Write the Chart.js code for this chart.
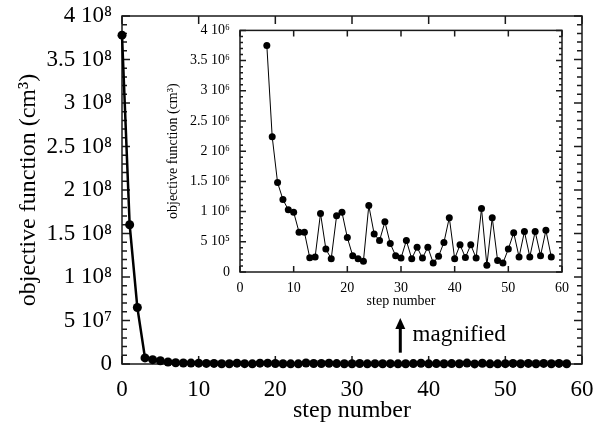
<!DOCTYPE html>
<html>
<head>
<meta charset="utf-8">
<script src="https://cdn.jsdelivr.net/npm/chart.js@4.4.0/dist/chart.umd.min.js"></script>
<style>
  html, body { margin: 0; padding: 0; background: #fff; }
  #wrap { position: relative; width: 604px; height: 429px; }
  #mainChart { position: absolute; left: 0; top: 0; }
  #insetChart { position: absolute; left: 160px; top: 20px; }
</style>
</head>
<body>
<div id="wrap">
  <canvas id="mainChart" width="604" height="429"></canvas>
  <canvas id="insetChart" width="410" height="290"></canvas>
</div>
<script>
// step numbers
const steps = [0, 1, 2, 3, 4, 5, 6, 7, 8, 9, 10, 11, 12, 13, 14, 15, 16, 17, 18, 19,
  20, 21, 22, 23, 24, 25, 26, 27, 28, 29, 30, 31, 32, 33, 34, 35, 36, 37, 38, 39,
  40, 41, 42, 43, 44, 45, 46, 47, 48, 49, 50, 51, 52, 53, 54, 55, 56, 57, 58];

// objective function (cm^3) for steps 0-4 (only readable on the big plot)
const earlyValues = [3.78e8, 1.6e8, 6.5e7, 7.0e6, 5.0e6];

// objective function (cm^3) for steps 5-58
const laterValues = [3.75e6, 2.24e6, 1.48e6, 1.20e6, 1.03e6, 0.99e6, 0.66e6, 0.66e6, 0.235e6, 0.25e6,
  0.97e6, 0.38e6, 0.22e6, 0.93e6, 0.99e6, 0.57e6, 0.27e6, 0.22e6, 0.18e6, 1.10e6,
  0.63e6, 0.52e6, 0.83e6, 0.47e6, 0.27e6, 0.23e6, 0.52e6, 0.22e6, 0.41e6, 0.23e6,
  0.41e6, 0.15e6, 0.26e6, 0.49e6, 0.90e6, 0.22e6, 0.45e6, 0.24e6, 0.45e6, 0.23e6,
  1.05e6, 0.11e6, 0.90e6, 0.19e6, 0.15e6, 0.38e6, 0.65e6, 0.25e6, 0.67e6, 0.25e6,
  0.67e6, 0.27e6, 0.69e6, 0.25e6];

const xTickValues = [0, 10, 20, 30, 40, 50, 60];

const SERIF = "'Liberation Serif', 'Times New Roman', serif";
const SUP = { "0": "⁰", "1": "¹", "2": "²", "3": "³", "4": "⁴", "5": "⁵", "6": "⁶", "7": "⁷", "8": "⁸", "9": "⁹" };

// 3.5e8 -> "3.5 10⁸"
function sciLabel(v) {
    if (v === 0) return "0";
    const e = Math.floor(Math.log10(v) + 1e-9);
    const m = Math.round(v / Math.pow(10, e) * 10) / 10;
    const sup = String(e).split("").map(c => SUP[c]).join("");
    return m + " 10" + sup;
}

// box round the plot with ticks pointing inwards on all four sides
const framePlugin = {
    id: "frame",
    beforeDatasetsDraw(chart, args, opts) {
        const { ctx, chartArea: a, scales: { x, y } } = chart;
        ctx.save();
        ctx.strokeStyle = "#1a1a1a";
        ctx.lineWidth = opts.lineWidth;
        ctx.strokeRect(a.left, a.top, a.right - a.left, a.bottom - a.top);
        ctx.beginPath();
        const nY = Math.round((y.max - y.min) / opts.yMinor);
        for (let i = 0; i <= nY; i++) {
            const v = y.min + i * opts.yMinor;
            const py = y.getPixelForValue(v);
            const major = i % opts.yMinorPerMajor === 0;
            const len = major ? opts.majorLen : opts.minorLen;
            ctx.moveTo(a.left, py); ctx.lineTo(a.left + len, py);
            ctx.moveTo(a.right, py); ctx.lineTo(a.right - len, py);
        }
        xTickValues.forEach(v => {
            const px = x.getPixelForValue(v);
            ctx.moveTo(px, a.bottom); ctx.lineTo(px, a.bottom - opts.majorLen);
            ctx.moveTo(px, a.top); ctx.lineTo(px, a.top + opts.majorLen);
        });
        ctx.stroke();
        ctx.restore();
    }
};

// arrow and the "magnified" note on the big plot
const notePlugin = {
    id: "note",
    afterDraw(chart, args, opts) {
        if (!opts.show) return;
        const { ctx, scales: { x, y } } = chart;
        const ax = x.getPixelForValue(36.3);
        const y0 = y.getPixelForValue(1.3e7);
        const y1 = y.getPixelForValue(5.3e7);
        ctx.save();
        ctx.strokeStyle = "#000";
        ctx.fillStyle = "#000";
        ctx.lineWidth = 3;
        ctx.beginPath();
        ctx.moveTo(ax, y0); ctx.lineTo(ax, y1 + 8);
        ctx.stroke();
        ctx.beginPath();
        ctx.moveTo(ax, y1); ctx.lineTo(ax - 5, y1 + 11); ctx.lineTo(ax + 5, y1 + 11);
        ctx.closePath();
        ctx.fill();
        ctx.font = "23px " + SERIF;
        ctx.textBaseline = "middle";
        ctx.textAlign = "left";
        ctx.fillText("magnified", x.getPixelForValue(37.9), y.getPixelForValue(3.3e7));
        ctx.restore();
    }
};

Chart.defaults.animation = false;
Chart.defaults.color = "#000";

function makeChart(id, opt) {
    return new Chart(document.getElementById(id), {
        type: "line",
        data: {
            datasets: [{
                data: opt.x.map((s, i) => ({ x: s, y: opt.y[i] })),
                borderColor: "#000",
                backgroundColor: "#000",
                borderWidth: opt.lineWidth,
                pointRadius: opt.pointRadius,
                pointBackgroundColor: "#000",
                pointBorderWidth: 0,
                tension: 0,
                clip: false
            }]
        },
        options: {
            responsive: false,
            devicePixelRatio: 1,
            layout: { padding: opt.padding },
            plugins: {
                legend: { display: false },
                tooltip: { enabled: false },
                frame: opt.frame,
                note: { show: opt.note }
            },
            scales: {
                x: {
                    type: "linear",
                    min: 0, max: 60,
                    grid: { display: false },
                    border: { display: false },
                    afterFit: s => { s.height = opt.xHeight; },
                    afterBuildTicks: s => { s.ticks = xTickValues.map(v => ({ value: v })); },
                    ticks: { font: { family: SERIF, size: opt.xTickSize }, padding: opt.xTickPad, maxRotation: 0 },
                    title: {
                        display: true, text: "step number",
                        font: { family: SERIF, size: opt.titleSize },
                        padding: { top: 0, bottom: opt.xTitlePad }
                    }
                },
                y: {
                    min: 0, max: opt.yMax,
                    grid: { display: false },
                    border: { display: false },
                    afterFit: s => { s.width = opt.yWidth; },
                    ticks: {
                        stepSize: opt.yStep,
                        font: { family: SERIF, size: opt.yTickSize },
                        padding: opt.yTickPad,
                        callback: v => sciLabel(v)
                    },
                    title: {
                        display: true, text: "objective function (cm³)",
                        font: { family: SERIF, size: opt.titleSize },
                        padding: { top: opt.yTitlePad, bottom: 0 }
                    }
                }
            }
        },
        plugins: [framePlugin, notePlugin]
    });
}

// big plot, all steps
makeChart("mainChart", {
    x: steps,
    y: earlyValues.concat(laterValues),
    yMax: 4e8, yStep: 5e7,
    lineWidth: 2.5, pointRadius: 4.5,
    padding: { top: 16, right: 22, left: 0, bottom: 0 },
    xHeight: 65, yWidth: 122,
    xTickSize: 23, yTickSize: 23, titleSize: 24,
    xTickPad: 4, yTickPad: 2, xTitlePad: 4, yTitlePad: 14,
    frame: { lineWidth: 1.5, yMinor: 1e7, yMinorPerMajor: 5, majorLen: 8, minorLen: 5 },
    note: true
});

// magnified plot, steps 5-58
makeChart("insetChart", {
    x: steps.slice(5),
    y: laterValues,
    yMax: 4e6, yStep: 5e5,
    lineWidth: 1, pointRadius: 3.5,
    padding: { top: 9, right: 8, left: 0, bottom: 0 },
    xHeight: 38, yWidth: 80,
    xTickSize: 14, yTickSize: 14, titleSize: 14,
    xTickPad: 0, yTickPad: 2, xTitlePad: 0, yTitlePad: 5,
    frame: { lineWidth: 1.5, yMinor: 1e5, yMinorPerMajor: 5, majorLen: 6, minorLen: 3 },
    note: false
});
</script>
</body>
</html>
